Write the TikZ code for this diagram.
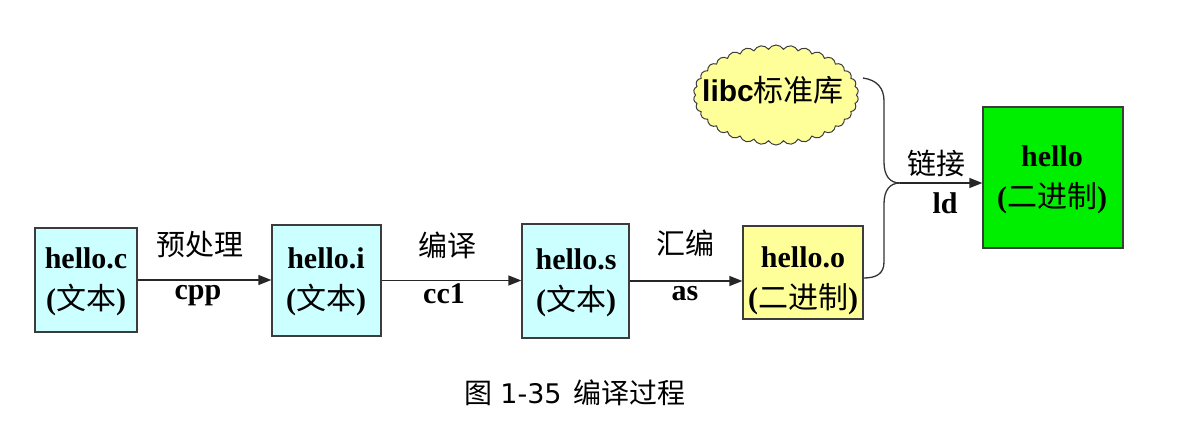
\documentclass[tikz,border=0pt]{standalone}
\usepackage{fontspec}
\setmainfont{Liberation Serif}
\newfontfamily\cjk{Noto Sans CJK SC}
\newfontfamily\verd{DejaVu Sans}
\newfontfamily\arialf{Liberation Sans}
\usetikzlibrary{shapes.symbols,arrows.meta}
\definecolor{cyanbox}{RGB}{204,255,255}
\definecolor{yelbox}{RGB}{255,255,153}
\definecolor{greenbox}{RGB}{0,238,0}
\definecolor{edgegray}{RGB}{60,60,60}
\begin{document}
\begin{tikzpicture}[x=1pt,y=-1pt,
  box/.style={draw=edgegray, line width=1.3pt, inner sep=0pt},
  boxtext/.style={align=center, inner sep=0pt, font=\fontsize{30}{41}\selectfont\bfseries},
  lab/.style={inner sep=1pt, font=\cjk\fontsize{29}{30}\selectfont},
  cmd/.style={inner sep=2pt, fill=white, font=\fontsize{30}{30}\selectfont\bfseries},
  arr/.style={draw=black!85, line width=1.4pt, -{Triangle[length=13pt,width=10pt]}},
  brace/.style={draw=black!80, line width=1.3pt}
]
\useasboundingbox (0,0) rectangle (1189,442);

% boxes
\node[box, fill=cyanbox, minimum width=102pt, minimum height=104pt] (c) at (86,280) {};
\node[box, fill=cyanbox, minimum width=109pt, minimum height=111pt] (i) at (326.5,280.5) {};
\node[box, fill=cyanbox, minimum width=107pt, minimum height=114pt] (s) at (575.5,281) {};
\node[box, fill=yelbox, minimum width=120pt, minimum height=93pt] (o) at (803,272.5) {};
\node[box, fill=greenbox, minimum width=140pt, minimum height=141pt] (h) at (1053,177.5) {};

\node[boxtext] (ct) at (86,282) {hello.c\\({\cjk\mdseries 文本})};
\node[boxtext] (it) at (326,282) {hello.i\\({\cjk\mdseries 文本})};
\node[boxtext] (st) at (576,283) {hello.s\\({\cjk\mdseries 文本})};
\node[boxtext] (ot) at (803,281) {hello.o\\({\cjk\mdseries 二进制})};
\node[boxtext] (ht) at (1052,180) {hello\\({\cjk\mdseries 二进制})};

% cloud
\node[cloud, cloud puffs=34, cloud puff arc=120, aspect=1.65, draw=edgegray, line width=1pt,
      fill=yelbox, minimum width=165pt, minimum height=100pt, inner sep=0pt] (lib) at (776,95) {};
\node[inner sep=0pt] (libt) at (773,90) {{\arialf\bfseries\fontsize{30}{30}\selectfont libc}{\cjk\fontsize{30}{30}\selectfont 标准库}};

% arrows
\draw[arr] (c.east) -- (c.east -| i.west);
\draw[arr] (i.east) -- (i.east -| s.west);
\draw[arr] (s.east) -- (s.east -| o.west);

\node[lab] (l1) at (200,245) {预处理};
\node[cmd] (m1) at (198,296) {cpp};
\node[lab] (l2) at (447,245) {编译};
\node[cmd] (m2) at (444,294) {cc1};
\node[lab] (l3) at (685,243) {汇编};
\node[cmd] (m3) at (685,294) {as};

% brace / link
\coordinate (b1) at (863,78);
\coordinate (j) at (900,183);
\draw[brace] (b1) .. controls (877,80) and (884,88) .. (884,101) -- (884,162)
  .. controls (884,176) and (890,183) .. (j);
\draw[brace] (j) .. controls (890,183) and (884,190) .. (884,204) -- (884,262)
  .. controls (884,274) and (876,278) .. ([yshift=-5.5pt]o.east);
\draw[arr] (j) -- (j -| h.west);
\node[lab] (l4) at (936,163) {链接};
\node[cmd, fill=none] (m4) at (945,203) {ld};

% caption
\node[inner sep=0pt] (cap) at (575,393) {{\cjk\fontsize{28}{30}\selectfont 图}\hspace{8pt}{\verd\fontsize{27}{30}\selectfont 1-35}\hspace{12pt}{\cjk\fontsize{28}{30}\selectfont 编译过程}};
\end{tikzpicture}
\end{document}
